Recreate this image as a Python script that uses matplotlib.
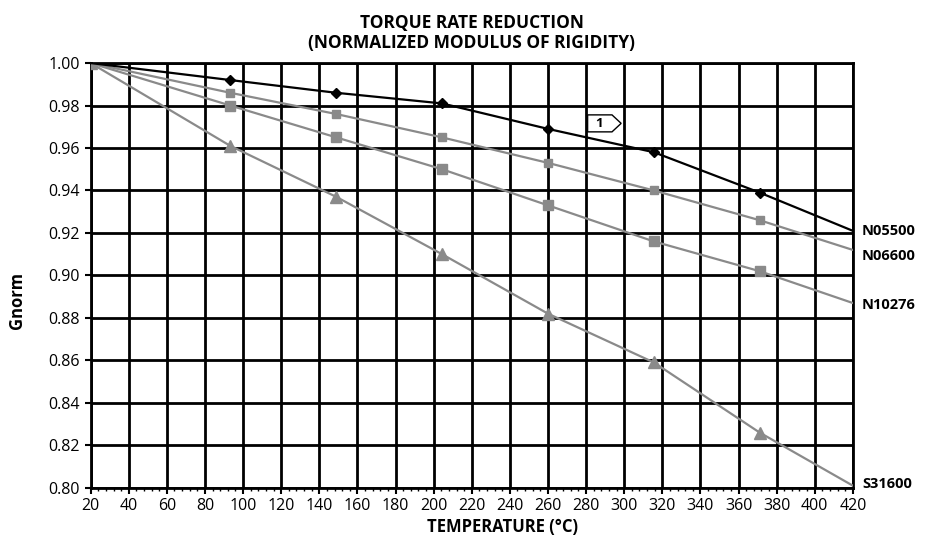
import matplotlib.pyplot as plt
from matplotlib.patches import Polygon

# temperatures in degC (200..700 F), last point is the line end at 420
temp = [20, 93.3, 148.9, 204.4, 260, 315.6, 371.1, 420]

n05500 = [1.000, 0.992, 0.986, 0.981, 0.969, 0.958, 0.939, 0.921]
n06600 = [1.000, 0.986, 0.976, 0.965, 0.953, 0.940, 0.926, 0.912]
n10276 = [1.000, 0.980, 0.965, 0.950, 0.933, 0.916, 0.902, 0.887]
s31600 = [1.000, 0.961, 0.937, 0.910, 0.882, 0.859, 0.826, 0.801]

names = ["N05500", "N06600", "N10276", "S31600"]
label_y = [0.921, 0.909, 0.886, 0.802]

xticks = list(range(20, 421, 20))
yticks = [0.80, 0.82, 0.84, 0.86, 0.88, 0.90, 0.92, 0.94, 0.96, 0.98, 1.00]

fig = plt.figure(figsize=(9.25, 5.39), dpi=100)
ax = fig.add_axes([0.098, 0.095, 0.824, 0.788])

gray = "#8a8a8a"
ax.plot(temp, s31600, color=gray, lw=1.6, marker="^", ms=8, markevery=slice(0, 7), zorder=3)
ax.plot(temp, n10276, color=gray, lw=1.6, marker="s", ms=7.5, markevery=slice(0, 7), zorder=3)
ax.plot(temp, n06600, color=gray, lw=1.6, marker="s", ms=5.5, markevery=slice(0, 7), zorder=3)
ax.plot(temp, n05500, color="black", lw=1.6, marker="D", ms=5, markevery=slice(1, 7), zorder=4)

ax.set_xlim(20, 420)
ax.set_ylim(0.80, 1.00)
ax.set_xticks(xticks)
ax.set_xticks(list(range(20, 421, 4)), minor=True)
ax.set_yticks(yticks)
ax.set_yticklabels([f"{v:.2f}" for v in yticks])
ax.grid(True, which="major", color="black", lw=2)
ax.set_axisbelow(True)
for s in ax.spines.values():
    s.set_linewidth(2)
ax.tick_params(axis="both", which="major", direction="out", length=4, width=1.5, labelsize=11.5)
ax.tick_params(axis="x", which="minor", direction="out", length=2.5, width=1)

fs = "Open Sans"
for t in ax.get_xticklabels() + ax.get_yticklabels():
    t.set_fontfamily(fs)

for n, y in zip(names, label_y):
    ax.annotate(n, xy=(420, y), xytext=(6.5, 0), textcoords="offset points", fontsize=10.5,
                fontweight="bold", family=fs, va="center", ha="left", annotation_clip=False)

ax.set_title("TORQUE RATE REDUCTION\n(NORMALIZED MODULUS OF RIGIDITY)", fontsize=12.5, fontweight="bold",
             family=fs, pad=11, linespacing=1.15)
ax.set_xlabel("TEMPERATURE (\u00b0C)", fontsize=12, fontweight="bold", family=fs)
ax.xaxis.set_label_coords(0.54, -0.072)
ax.set_ylabel("Gnorm", fontsize=12, fontweight="bold", family=fs)
ax.yaxis.set_label_coords(-0.085, 0.44)

# note tag "1"
tag = Polygon([(0.652, 0.878), (0.684, 0.878), (0.696, 0.858), (0.684, 0.838), (0.652, 0.838)],
              closed=True, transform=ax.transAxes, facecolor="white", edgecolor="black", lw=1, zorder=5)
ax.add_patch(tag)
ax.text(0.667, 0.858, "1", transform=ax.transAxes, fontsize=9.5, fontweight="bold", family=fs,
        ha="center", va="center", zorder=6)

fig.savefig("out.png", dpi=100)
